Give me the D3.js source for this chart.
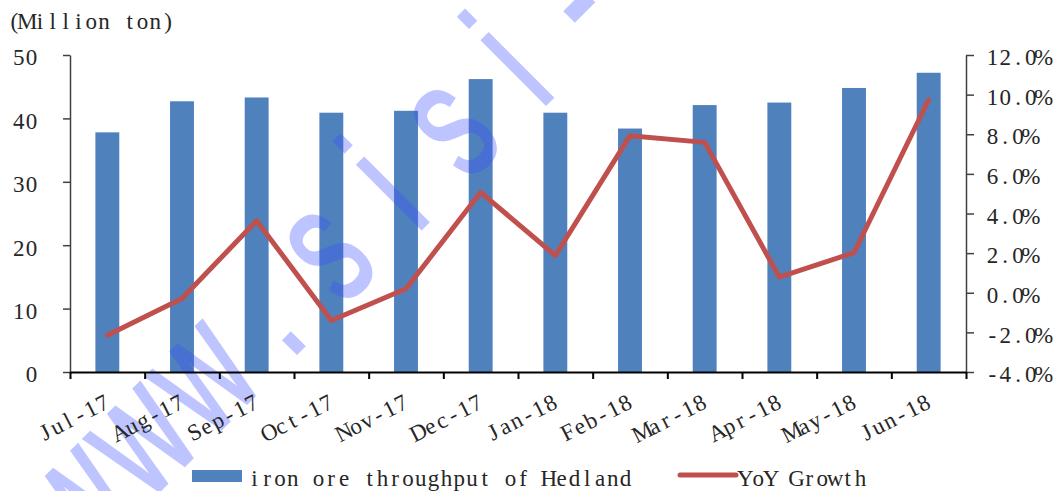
<!DOCTYPE html>
<html>
<head>
<meta charset="utf-8">
<script src="https://cdn.jsdelivr.net/npm/d3@7"></script>
<style>
  body { margin: 0; background: #fff; }
  svg { display: block; }
</style>
</head>
<body>
<svg id="chart" width="1055" height="491"></svg>
<script>
// Monthly categories
const months = ["Jul-17", "Aug-17", "Sep-17", "Oct-17", "Nov-17", "Dec-17",
                "Jan-18", "Feb-18", "Mar-18", "Apr-18", "May-18", "Jun-18"];
// Iron ore throughput of Port Hedland, million tons
const throughput = [37.8, 42.7, 43.3, 40.9, 41.2, 46.2, 40.9, 38.4, 42.1, 42.5, 44.8, 47.2];
// Year-on-year growth, percent
const yoyGrowth = [-2.15, -0.29, 3.64, -1.4, 0.2, 5.07, 1.88, 7.93, 7.59, 0.79, 2.02, 9.74];
// Axis ticks
const leftTicks = [0, 10, 20, 30, 40, 50];
const rightTicks = [-4, -2, 0, 2, 4, 6, 8, 10, 12];
// Labels
const seriesNames = ["iron ore throughput of Hedland", "YoY Growth"];
const unitLabel = "(Million ton)";
const watermarkText = "www.sisi-";

const barColor = "#4f81bd";
const lineColor = "#c0504d";
const textColor = "#262626";
const FONT = "'Liberation Serif', 'DejaVu Serif', serif";
const FONT_SIZE = 23;
const CHAR_W = 12.8;   // fixed cell width per character

const svg = d3.select("#chart");

const plot = { left: 70, right: 966, top: 55, bottom: 372 };

const x = d3.scaleBand().domain(months).range([plot.left, plot.right]).padding(0);
const slot = d3.scaleLinear().domain([0, months.length]).range([plot.left, plot.right]);
const yL = d3.scaleLinear().domain([0, 50]).range([plot.bottom, plot.top]);
const yR = d3.scaleLinear().domain([-4, 12]).range([plot.bottom, plot.top]);

const barW = x.bandwidth() * 0.32;

// Lay every glyph of a text on a fixed-width grid, keeping its anchor side
function gridText(sel) {
  sel.each(function () {
    const t = d3.select(this);
    const s = t.text();
    const n = s.length;
    let anchor = null;
    for (let node = this; node && node.getAttribute && !anchor; node = node.parentNode) {
      anchor = node.getAttribute("text-anchor");
    }
    anchor = anchor || "start";
    const x0 = +(t.attr("x") || 0);
    let start = x0;
    if (anchor === "end") start = x0 - n * CHAR_W;
    else if (anchor === "middle") start = x0 - n * CHAR_W / 2;
    t.attr("x", d3.range(n).map(k => (start + (k + 0.5) * CHAR_W).toFixed(2)).join(" "))
     .attr("text-anchor", "middle")
     .attr("font-family", FONT)
     .attr("font-size", FONT_SIZE)
     .attr("fill", textColor);
  });
}

// Bars
svg.append("g")
  .selectAll("rect")
  .data(throughput)
  .join("rect")
  .attr("x", (d, i) => x(months[i]) + (x.bandwidth() - barW) / 2)
  .attr("y", d => yL(d))
  .attr("width", barW)
  .attr("height", d => yL(0) - yL(d))
  .attr("fill", barColor);

// Watermark, evenly spaced glyphs along a 45-degree baseline
const wmStep = 88, wmScale = 0.65;
const wm = svg.append("g")
  .attr("opacity", 0.33)
  .attr("transform", "translate(325,325) rotate(-45) scale(" + wmScale + ",1)");
wm.append("text")
  .attr("x", watermarkText.split("").map((c, k) => ((k - 3) * wmStep - 35) / wmScale).join(" "))
  .attr("y", 0)
  .attr("text-anchor", "middle")
  .attr("font-family", "'Liberation Sans', Arial, sans-serif")
  .attr("font-size", 170)
  .attr("fill", "rgb(60,80,255)")
  .attr("stroke", "rgb(60,80,255)")
  .attr("stroke-width", 3)
  .text(watermarkText);

// Left axis
const gL = svg.append("g")
  .attr("transform", `translate(${plot.left},0)`)
  .call(d3.axisLeft(yL).tickValues(leftTicks).tickSize(7).tickSizeOuter(0).tickPadding(25));
gL.select(".domain").attr("stroke", "#404040").attr("stroke-width", 1.5);
gL.selectAll(".tick line").attr("stroke", "#404040").attr("stroke-width", 1.5);
gL.selectAll("text").attr("dy", "0.43em").call(gridText);

// Right axis
const gR = svg.append("g")
  .attr("transform", `translate(${plot.right},0)`)
  .call(d3.axisRight(yR).tickValues(rightTicks).tickSize(8).tickSizeOuter(0).tickPadding(12)
    .tickFormat(d => d.toFixed(1) + "%"));
gR.select(".domain").attr("stroke", "#404040").attr("stroke-width", 1.5);
gR.selectAll(".tick line").attr("stroke", "#404040").attr("stroke-width", 1.5);
gR.selectAll("text").attr("dy", "0.42em").call(gridText);

// Bottom axis: tick marks on category boundaries
const gB = svg.append("g")
  .attr("transform", `translate(0,${plot.bottom})`)
  .call(d3.axisBottom(slot).ticks(months.length).tickSize(7).tickSizeOuter(0).tickFormat(""));
gB.select(".domain").attr("stroke", "#000").attr("stroke-width", 2.2);
gB.selectAll(".tick line").attr("stroke", "#000").attr("stroke-width", 2);

// Bottom axis: rotated month labels at category centres
const gX = svg.append("g")
  .attr("transform", `translate(0,${plot.bottom})`)
  .call(d3.axisBottom(x).tickSize(0));
gX.select(".domain").remove();
gX.selectAll("text")
  .attr("text-anchor", "end")
  .attr("x", 0).attr("y", 0).attr("dy", 0)
  .attr("transform", "translate(4,35) rotate(-27)")
  .call(gridText);

// YoY growth line
const line = d3.line()
  .x((d, i) => x(months[i]) + x.bandwidth() / 2)
  .y(d => yR(d));
svg.append("path")
  .datum(yoyGrowth)
  .attr("d", line)
  .attr("fill", "none")
  .attr("stroke", lineColor)
  .attr("stroke-width", 5)
  .attr("stroke-linejoin", "round")
  .attr("stroke-linecap", "round");

// Unit label
svg.append("text")
  .attr("x", 8).attr("y", 29)
  .text(unitLabel)
  .call(gridText);

// Legend
const legend = svg.append("g");
legend.append("rect")
  .attr("x", 192).attr("y", 470).attr("width", 50).attr("height", 12)
  .attr("fill", barColor);
legend.append("text")
  .attr("x", 248).attr("y", 486)
  .text(seriesNames[0])
  .call(gridText);
legend.append("line")
  .attr("x1", 680).attr("x2", 736).attr("y1", 475).attr("y2", 475)
  .attr("stroke", lineColor).attr("stroke-width", 5).attr("stroke-linecap", "round");
legend.append("text")
  .attr("x", 739).attr("y", 486)
  .text(seriesNames[1])
  .call(gridText);
</script>
</body>
</html>
